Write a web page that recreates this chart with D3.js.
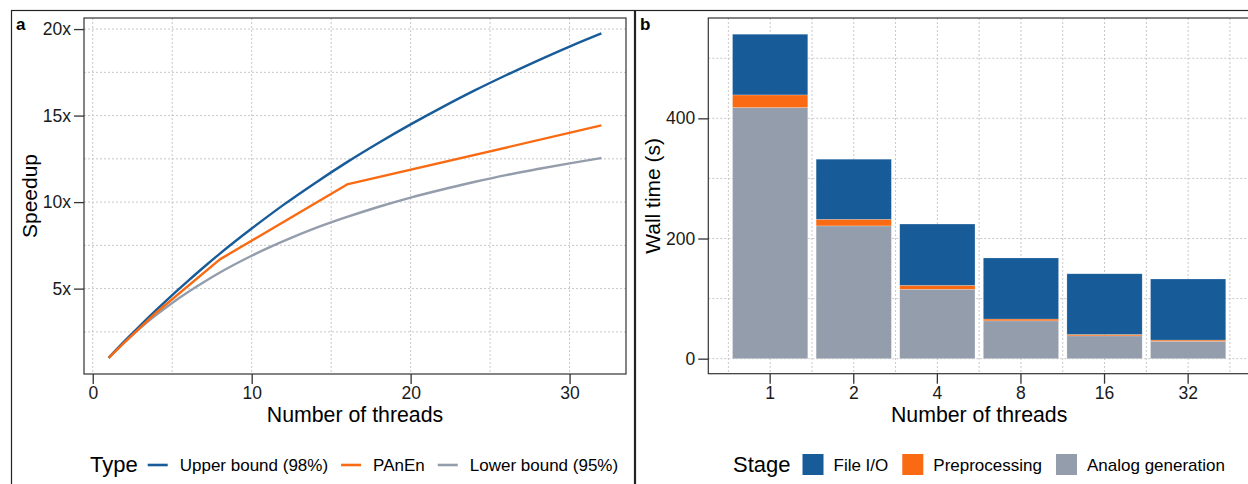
<!DOCTYPE html>
<html>
<head>
<meta charset="utf-8">
<script src="https://cdn.jsdelivr.net/npm/d3@7"></script>
<style>
  body { margin: 0; background: #fff; }
  svg { display: block; font-family: "Liberation Sans", Arial, sans-serif; }
</style>
</head>
<body>
<div id="plot"></div>
<script>
// ---- data ----
// panel a: speedup curves
const lineThreads = [1, 2, 3, 4, 5, 6, 7, 8, 10, 12, 14, 16, 18, 20, 22, 24, 26, 28, 30, 32];
const upperBound = [1, 1.96, 2.88, 3.77, 4.63, 5.45, 6.25, 7.02, 8.47, 9.84, 11.11, 12.31, 13.43, 14.49, 15.49, 16.44, 17.33, 18.18, 18.99, 19.75];
const lowerBound = [1, 1.90, 2.73, 3.48, 4.17, 4.80, 5.38, 5.93, 6.90, 7.74, 8.49, 9.14, 9.73, 10.26, 10.73, 11.16, 11.56, 11.91, 12.24, 12.55];
const panenThreads = [1, 2, 4, 8, 16, 32];
const panenSpeedup = [1, 1.89, 3.62, 6.69, 11.02, 14.43];
const typeNames = ["Upper bound (98%)", "PAnEn", "Lower bound (95%)"];
const speedTicks = [5, 10, 15, 20];
const threadTicks = [0, 10, 20, 30];

// panel b: wall time per stage
const threadCats = ["1", "2", "4", "8", "16", "32"];
const analogGen = [418, 221, 115.5, 63, 38, 29];
const preprocessing = [21, 11, 6.6, 3, 2.3, 2];
const fileIO = [101, 100, 102, 101.6, 101, 101.6];
const stageNames = ["File I/O", "Preprocessing", "Analog generation"];
const wallTicks = [0, 200, 400];

const colors = {blue: "#175b99", orange: "#f96a12", gray: "#949dab"};

const W = 1248, H = 484;
const svg = d3.select("#plot").append("svg")
    .attr("width", W)
    .attr("height", H);

svg.append("rect").attr("width", W).attr("height", H).attr("fill", "#fff");

// outer frames of the two sub-figures
svg.append("rect")
    .attr("x", 11.5).attr("y", 10.5).attr("width", 623).attr("height", 500)
    .attr("fill", "none").attr("stroke", "#222").attr("stroke-width", 1.2);
svg.append("rect")
    .attr("x", 635.5).attr("y", 10.5).attr("width", 700).attr("height", 500)
    .attr("fill", "none").attr("stroke", "#222").attr("stroke-width", 1.2);

svg.append("text").attr("x", 16).attr("y", 30)
    .attr("font-size", 17).attr("font-weight", "bold").text("a");
svg.append("text").attr("x", 640).attr("y", 30)
    .attr("font-size", 17).attr("font-weight", "bold").text("b");

function grid(g, lines) {
    g.selectAll("line").data(lines).join("line")
        .attr("x1", d => d[0]).attr("y1", d => d[1])
        .attr("x2", d => d[2]).attr("y2", d => d[3])
        .attr("stroke", "#c8c8c8")
        .attr("stroke-width", 1)
        .attr("stroke-dasharray", "2,2");
}

function styleAxis(g) {
    g.attr("font-family", "Liberation Sans, Arial, sans-serif").attr("font-size", 17.5);
    g.select(".domain").remove();
    g.selectAll(".tick line").attr("stroke", "#333").attr("stroke-width", 1.3);
    g.selectAll(".tick text").attr("fill", "#1a1a1a");
}

// ================= panel a =================
const a = {left: 84, right: 626, top: 18, bottom: 374};

const x = d3.scaleLinear().domain([-0.55, 33.55]).range([a.left, a.right]);
const y = d3.scaleLinear().domain([0.065, 20.64]).range([a.bottom, a.top]);

const gA = svg.append("g");
gA.append("rect")
    .attr("x", a.left).attr("y", a.top)
    .attr("width", a.right - a.left).attr("height", a.bottom - a.top)
    .attr("fill", "#fff");

const aGrid = [];
d3.range(0, 31, 5).forEach(v => aGrid.push([x(v), a.top, x(v), a.bottom]));
d3.range(2.5, 20.1, 2.5).forEach(v => aGrid.push([a.left, y(v), a.right, y(v)]));
grid(gA.append("g"), aGrid);

const lineGen = d3.line()
    .x(d => x(d[0]))
    .y(d => y(d[1]));

const series = [
    {name: typeNames[2], color: colors.gray, pts: d3.zip(lineThreads, lowerBound), curve: d3.curveMonotoneX},
    {name: typeNames[0], color: colors.blue, pts: d3.zip(lineThreads, upperBound), curve: d3.curveMonotoneX},
    {name: typeNames[1], color: colors.orange, pts: d3.zip(panenThreads, panenSpeedup), curve: d3.curveLinear}
];

gA.selectAll("path.series").data(series).join("path")
    .attr("class", "series")
    .attr("d", d => lineGen.curve(d.curve)(d.pts))
    .attr("fill", "none")
    .attr("stroke", d => d.color)
    .attr("stroke-width", 2.4)
    .attr("stroke-linejoin", "round");

gA.append("rect")
    .attr("x", a.left).attr("y", a.top)
    .attr("width", a.right - a.left).attr("height", a.bottom - a.top)
    .attr("fill", "none").attr("stroke", "#333").attr("stroke-width", 1.2);

gA.append("g")
    .attr("transform", `translate(0,${a.bottom})`)
    .call(d3.axisBottom(x).tickValues(threadTicks).tickSize(10).tickPadding(3))
    .call(styleAxis);

gA.append("g")
    .attr("transform", `translate(${a.left},0)`)
    .call(d3.axisLeft(y).tickValues(speedTicks).tickSize(10).tickPadding(3).tickFormat(d => d + "x"))
    .call(styleAxis);

gA.append("text")
    .attr("x", (a.left + a.right) / 2).attr("y", 422)
    .attr("text-anchor", "middle")
    .attr("font-size", 21.3)
    .text("Number of threads");

gA.append("text")
    .attr("transform", `translate(37,${(a.top + a.bottom) / 2}) rotate(-90)`)
    .attr("text-anchor", "middle")
    .attr("font-size", 21)
    .text("Speedup");

// legend a
const legA = svg.append("g");
let lx = 90;
const tA = legA.append("text").attr("x", lx).attr("y", 472)
    .attr("font-size", 22).text("Type");
lx += tA.node().getComputedTextLength() + 10;
[[typeNames[0], colors.blue], [typeNames[1], colors.orange], [typeNames[2], colors.gray]].forEach(([name, c]) => {
    legA.append("line")
        .attr("x1", lx).attr("x2", lx + 20).attr("y1", 465).attr("y2", 465)
        .attr("stroke", c).attr("stroke-width", 2.6);
    const t = legA.append("text").attr("x", lx + 32).attr("y", 471)
        .attr("font-size", 17).text(name);
    lx += 32 + t.node().getComputedTextLength() + 13;
});

// ================= panel b =================
const b = {left: 708.3, right: 1250, top: 18, bottom: 373.7};

const xb = d3.scaleBand().domain(threadCats).range([b.left, b.right])
    .paddingInner(0.1).paddingOuter(0.29);
const yb = d3.scaleLinear().domain([-25, 567]).range([b.bottom, b.top]);

const gB = svg.append("g");
gB.append("rect")
    .attr("x", b.left).attr("y", b.top)
    .attr("width", b.right - b.left).attr("height", b.bottom - b.top)
    .attr("fill", "#fff");

const step = xb.step();
const bGrid = [];
threadCats.forEach((c, i) => {
    const cx = xb(c) + xb.bandwidth() / 2;
    bGrid.push([cx, b.top, cx, b.bottom]);
    bGrid.push([cx - step / 2, b.top, cx - step / 2, b.bottom]);
    if (i === threadCats.length - 1) bGrid.push([cx + step / 2, b.top, cx + step / 2, b.bottom]);
});
d3.range(0, 501, 100).forEach(v => bGrid.push([b.left, yb(v), b.right, yb(v)]));
grid(gB.append("g"), bGrid);

const rows = threadCats.map((c, i) => ({
    cat: c, analog: analogGen[i], prep: preprocessing[i], io: fileIO[i]
}));
const stack = d3.stack().keys(["analog", "prep", "io"])(rows);
const stackColor = {analog: colors.gray, prep: colors.orange, io: colors.blue};

gB.selectAll("g.layer").data(stack).join("g")
    .attr("class", "layer")
    .attr("fill", d => stackColor[d.key])
    .selectAll("rect").data(d => d).join("rect")
    .attr("x", d => xb(d.data.cat))
    .attr("width", xb.bandwidth())
    .attr("y", d => yb(d[1]))
    .attr("height", d => yb(d[0]) - yb(d[1]))
    .attr("stroke", "#fff")
    .attr("stroke-opacity", 0.35)
    .attr("stroke-width", 0.6);

gB.append("rect")
    .attr("x", b.left).attr("y", b.top)
    .attr("width", b.right - b.left).attr("height", b.bottom - b.top)
    .attr("fill", "none").attr("stroke", "#333").attr("stroke-width", 1.2);

gB.append("g")
    .attr("transform", `translate(0,${b.bottom})`)
    .call(d3.axisBottom(xb).tickSize(10).tickPadding(3))
    .call(styleAxis);

gB.append("g")
    .attr("transform", `translate(${b.left},0)`)
    .call(d3.axisLeft(yb).tickValues(wallTicks).tickSize(10).tickPadding(3))
    .call(styleAxis);

gB.append("text")
    .attr("x", xb("4") + xb.bandwidth() / 2 + step / 2).attr("y", 422)
    .attr("text-anchor", "middle")
    .attr("font-size", 21.3)
    .text("Number of threads");

gB.append("text")
    .attr("transform", `translate(660,${(b.top + b.bottom) / 2}) rotate(-90)`)
    .attr("text-anchor", "middle")
    .attr("font-size", 21)
    .text("Wall time (s)");

// legend b
const legB = svg.append("g");
let bx = 733;
const tB = legB.append("text").attr("x", bx).attr("y", 472)
    .attr("font-size", 22).text("Stage");
bx += tB.node().getComputedTextLength() + 12;
[[stageNames[0], colors.blue], [stageNames[1], colors.orange], [stageNames[2], colors.gray]].forEach(([name, c]) => {
    legB.append("rect")
        .attr("x", bx).attr("y", 454).attr("width", 21).attr("height", 21)
        .attr("fill", c);
    const t = legB.append("text").attr("x", bx + 31).attr("y", 471)
        .attr("font-size", 17).text(name);
    bx += 31 + t.node().getComputedTextLength() + 14;
});
</script>
</body>
</html>
